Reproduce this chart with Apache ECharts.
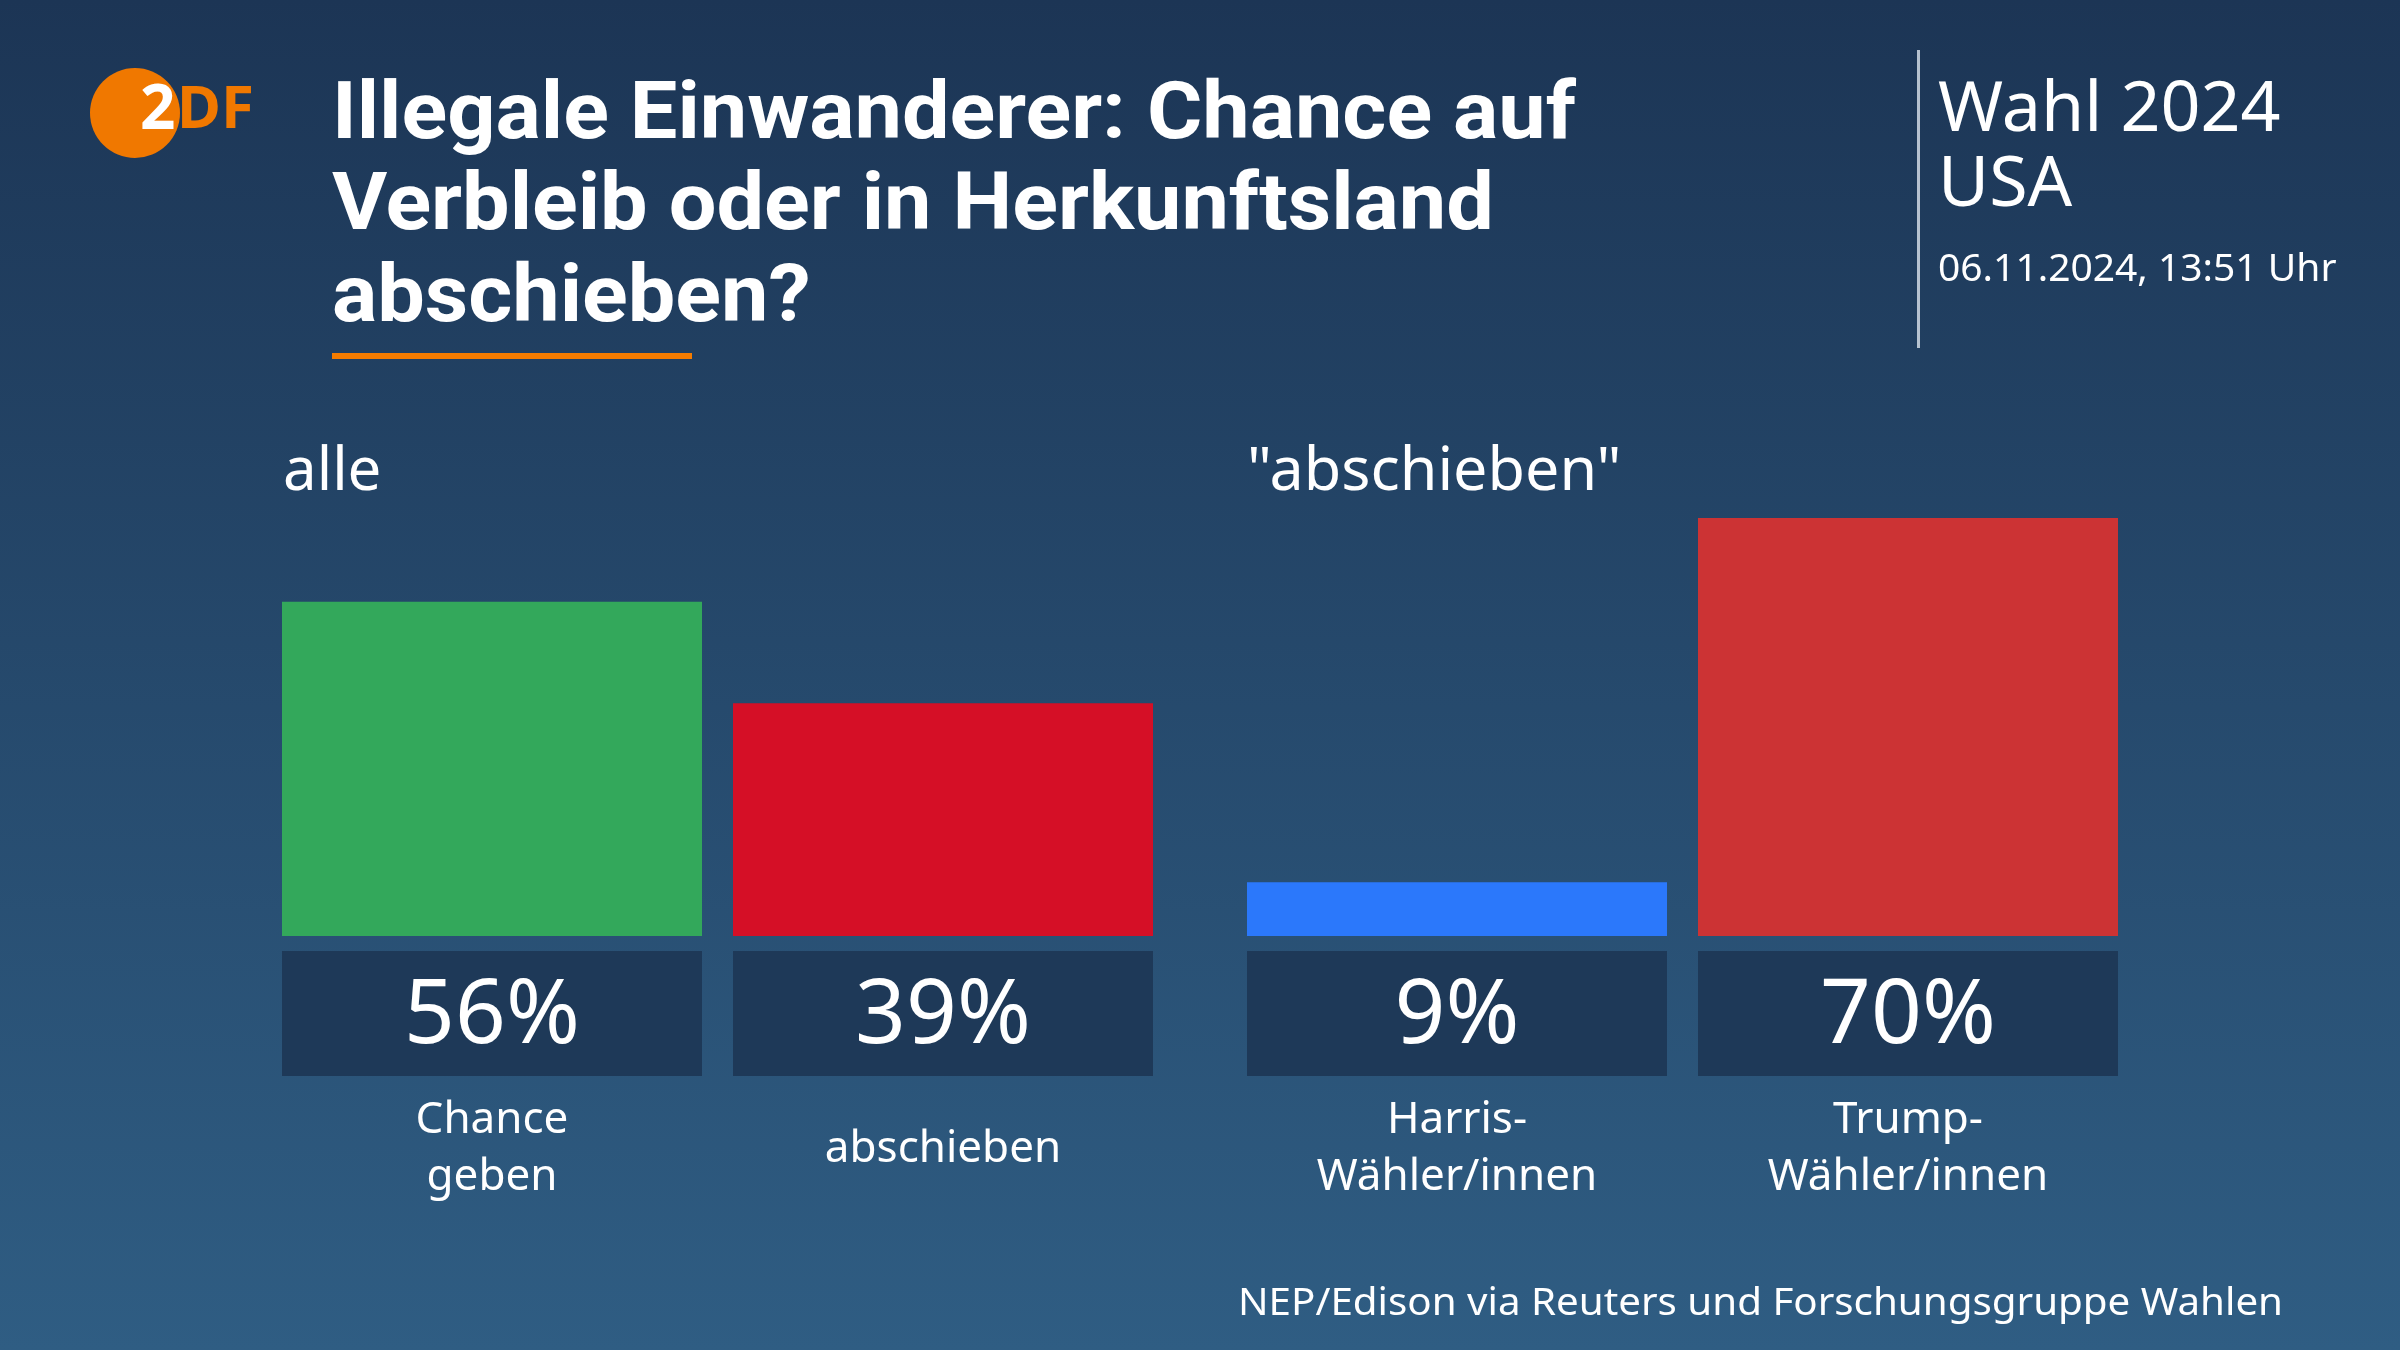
<!DOCTYPE html>
<html><head><meta charset="utf-8">
<script src="https://cdn.jsdelivr.net/npm/echarts@6/dist/echarts.min.js"></script>
<style>html,body{margin:0;padding:0;background:#1e3858}#c{width:2400px;height:1350px}</style>
</head><body><div id="c"></div>
<script>
// ---- data ----
const titleText = 'Illegale Einwanderer: Chance auf\nVerbleib oder in Herkunftsland\nabschieben?';
const headerLines = ['Wahl 2024', 'USA'];
const dateText = '06.11.2024, 13:51 Uhr';
const sourceText = 'NEP/Edison via Reuters und Forschungsgruppe Wahlen';
const groupTitles = ['alle', '"abschieben"'];
const categoriesAll = ['Chance\ngeben', 'abschieben'];
const valuesAll = [56, 39];
const categoriesVoters = ['Harris-\nWähler/innen', 'Trump-\nWähler/innen'];
const valuesVoters = [9, 70];
const colorsAll = ['#33a85b', '#d50f26'];
const colorsVoters = ['#2b78fb', '#cc3334'];

// ---- helpers ----
function textW(t, font) {
  const c = document.createElement('canvas').getContext('2d');
  c.font = font; return c.measureText(t).width;
}
const FONT = '"Noto Sans", sans-serif';
const titleFont = 'bold 80px Roboto';
const titleScale = 1244 / textW('Illegale Einwanderer: Chance auf', titleFont);
const sourceFont = '38px "Noto Sans"';
const sourceScale = 1045 / textW(sourceText, sourceFont);

const chart = echarts.init(document.getElementById('c'), null, {renderer: 'canvas'});

const boxColor = '#1e3958';
function barSeries(values, colors, idx) {
  return {
    type: 'bar', xAxisIndex: idx, yAxisIndex: idx, barWidth: 420,
    data: values.map((v, i) => ({value: v, itemStyle: {color: colors[i]}})),
    label: {
      show: true, position: 'bottom', distance: 15, formatter: '{c}%',
      color: '#ffffff', fontFamily: FONT, fontSize: 89, width: 420,
      lineHeight: 116, padding: [9, 0, 0, 0], backgroundColor: boxColor, align: 'center'
    },
    silent: true
  };
}
function xAxis(cats, idx) {
  return {
    type: 'category', gridIndex: idx, data: cats,
    axisLine: {show: false}, axisTick: {show: false}, splitLine: {show: false},
    axisLabel: {margin: 213, color: '#ffffff', fontFamily: FONT, fontSize: 44,
      lineHeight: 57, verticalAlign: 'middle', interval: 0}
  };
}
function yAxis(idx) {
  return {type: 'value', gridIndex: idx, min: 0, max: 100, show: false};
}

const option = {
  animation: false,
  backgroundColor: new echarts.graphic.LinearGradient(0, 0, 0, 1, [
    {offset: 0, color: '#1c3555'}, {offset: 1, color: '#2f5d83'}
  ]),
  grid: [
    {left: 266.5, width: 902, top: 339, height: 597},
    {left: 1231.5, width: 902, top: 339, height: 597}
  ],
  xAxis: [xAxis(categoriesAll, 0), xAxis(categoriesVoters, 1)],
  yAxis: [yAxis(0), yAxis(1)],
  series: [barSeries(valuesAll, colorsAll, 0), barSeries(valuesVoters, colorsVoters, 1)],
  graphic: [
    // logo
    {type: 'circle', shape: {cx: 135, cy: 113, r: 45}, style: {fill: '#f07800'}},
    {type: 'text', x: 140, y: 111, style: {text: '2', fill: '#ffffff', font: 'bold 62px "Noto Sans"', align: 'left', verticalAlign: 'middle'}},
    {type: 'text', x: 177, y: 111, style: {text: 'DF', fill: '#f07800', font: 'bold 60px "Noto Sans"', align: 'left', verticalAlign: 'middle'}},
    // title
    {type: 'text', x: 332, y: 72, scaleX: titleScale, scaleY: 1,
      style: {text: titleText, fill: '#ffffff', font: titleFont, lineHeight: 91.5, align: 'left', verticalAlign: 'top'}},
    {type: 'rect', shape: {x: 332, y: 353, width: 360, height: 6}, style: {fill: '#f57c00'}},
    // right header
    {type: 'rect', shape: {x: 1917, y: 50, width: 3, height: 298}, style: {fill: 'rgba(220,228,236,0.8)'}},
    {type: 'text', x: 1938, y: 111, style: {text: headerLines[0], fill: '#ffffff', font: '70px "Noto Sans"', align: 'left', verticalAlign: 'middle'}},
    {type: 'text', x: 1938, y: 186, style: {text: headerLines[1], fill: '#ffffff', font: '70px "Noto Sans"', align: 'left', verticalAlign: 'middle'}},
    {type: 'text', x: 1938, y: 270, style: {text: dateText, fill: '#ffffff', font: '39px "Noto Sans"', align: 'left', verticalAlign: 'middle'}},
    // group titles
    {type: 'text', x: 283, y: 473, style: {text: groupTitles[0], fill: '#ffffff', font: '60px "Noto Sans"', align: 'left', verticalAlign: 'middle'}},
    {type: 'text', x: 1247, y: 473, style: {text: groupTitles[1], fill: '#ffffff', font: '61px "Noto Sans"', align: 'left', verticalAlign: 'middle'}},
    // source
    {type: 'text', x: 2283, y: 1304, scaleX: sourceScale, scaleY: 1,
      style: {text: sourceText, fill: '#ffffff', font: sourceFont, align: 'right', verticalAlign: 'middle'}}
  ]
};
chart.setOption(option);
</script>
</body></html>
